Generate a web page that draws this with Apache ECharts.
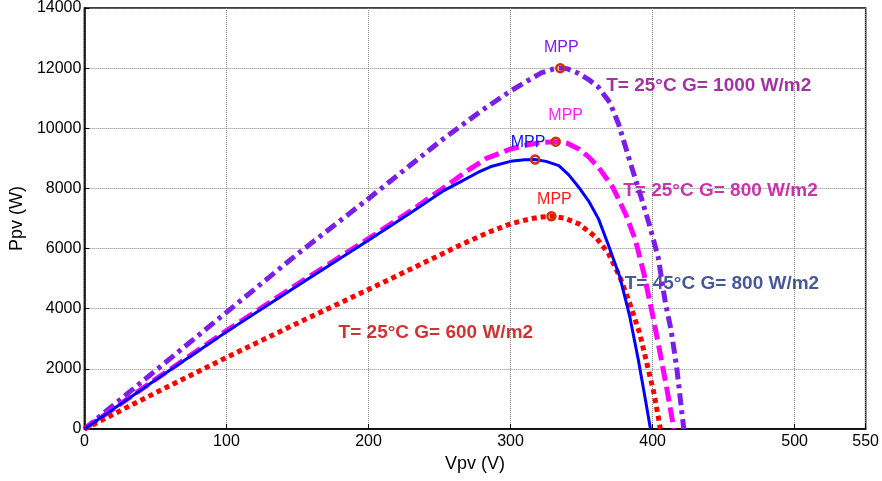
<!DOCTYPE html>
<html>
<head>
<meta charset="utf-8">
<script src="https://cdn.jsdelivr.net/npm/echarts@6/dist/echarts.min.js"></script>
<style>
html,body{margin:0;padding:0;background:#fff;}
#chart{width:882px;height:481px;}
</style>
</head>
<body>
<div id="chart"></div>
<script>
// ---- data ----
var xTicks = [0, 100, 200, 300, 400, 500, 550];
var yTicks = [0, 2000, 4000, 6000, 8000, 10000, 12000, 14000];

var v1000 = [0, 50, 100, 150, 200, 250, 280, 300, 312, 322, 330, 335, 340, 348, 355, 362, 370, 376, 385, 392, 398, 404, 409, 413, 417, 420, 422];
var p1000 = [0, 1940, 3880, 5820, 7660, 9550, 10600, 11240, 11580, 11850, 11970, 12000, 11980, 11820, 11620, 11360, 10850, 10150, 8750, 7700, 6750, 5700, 4200, 3300, 2050, 800, 0];

var v800 = [0, 50, 100, 150, 200, 230, 252, 270, 283, 300, 312, 322, 332, 340, 348, 355, 362, 372, 381, 388, 394, 400, 405, 410, 415];
var p800 = [0, 1650, 3270, 4820, 6330, 7260, 7990, 8600, 9000, 9310, 9450, 9530, 9556, 9500, 9313, 9050, 8700, 8040, 7150, 6270, 5150, 3800, 2600, 1350, 0];

var v600 = [0, 50, 100, 150, 200, 250, 264, 285, 300, 315, 322, 329, 338, 348, 360, 369, 377, 384, 391, 396, 401, 404, 405.5];
var p600 = [0, 1200, 2380, 3520, 4640, 5780, 6105, 6550, 6825, 7000, 7050, 7077, 7010, 6825, 6381, 5830, 5053, 4170, 3175, 2180, 1185, 408, 0];

var v45 = [0, 50, 100, 150, 200, 230, 252, 264, 277, 287, 300, 310, 317, 325, 334, 341, 348, 355, 362, 369, 377, 384, 390, 395, 398.5];
var p45 = [0, 1630, 3230, 4760, 6280, 7200, 7900, 8200, 8530, 8740, 8900, 8950, 8960, 8900, 8760, 8450, 8040, 7580, 6980, 6100, 5053, 3726, 2290, 962, 0];

var mppV = [335, 331.8, 328.8, 317.3];
var mppP = [12000, 9556, 7077, 8960];
var mppLabel = ['MPP', 'MPP', 'MPP', 'MPP'];

var curveLabels = ['T= 25°C G= 1000 W/m2', 'T= 25°C G= 800 W/m2', 'T= 25°C G= 600 W/m2', 'T= 45°C G= 800 W/m2'];
var curveLabelV = [367, 379, 178.6, 380];
var curveLabelP = [11414, 7930, 3185, 4844];

// ---- styles ----
var lineColors = ['#7b1fe8', '#ff00ff', '#ff0000', '#0000ff'];
var mppLabelColors = ['#7b1fe8', '#ff22ff', '#ff1a1a', '#1010ff'];
var mppOffsets = [[1, -21], [10, -26], [3, -17], [-7, -17]];
var curveLabelColors = ['#8c008c', '#c00096', '#c40000', '#17307f'];

function pairs(xs, ys) { return xs.map(function (x, i) { return [x, ys[i]]; }); }

var FONT = 'Liberation Sans, Arial, sans-serif';

var chart = echarts.init(document.getElementById('chart'));
var lineSeries = [
  {name: 'G1000', v: v1000, p: p1000, type: [12, 5, 4, 5], width: 5},
  {name: 'G800', v: v800, p: p800, type: [15, 6], width: 5},
  {name: 'G600', v: v600, p: p600, type: [5, 4], width: 5},
  {name: 'T45', v: v45, p: p45, type: 'solid', width: 3}
].map(function (s, i) {
  return {
    name: s.name,
    type: 'line',
    data: pairs(s.v, s.p),
    showSymbol: false,
    smooth: false,
    lineStyle: {color: lineColors[i], width: s.width, type: s.type, cap: 'butt', join: 'round'},
    z: 3 + i
  };
});

var mppData = mppV.map(function (v, i) {
  return {
    value: [v, mppP[i]],
    label: {
      show: true,
      formatter: mppLabel[i],
      position: 'inside',
      offset: mppOffsets[i],
      color: mppLabelColors[i],
      textBorderWidth: 0,
      fontSize: 16,
      fontFamily: FONT
    }
  };
});

var annData = curveLabels.map(function (t, i) {
  return {
    value: [curveLabelV[i], curveLabelP[i]],
    label: {
      show: true,
      formatter: t,
      position: 'right',
      distance: 0,
      color: curveLabelColors[i],
      textBorderWidth: 0,
      fontSize: 19,
      fontWeight: 'bold',
      fontFamily: FONT
    }
  };
});

var option = {
  animation: false,
  backgroundColor: '#fff',
  grid: {left: 83, right: 14, top: 7, bottom: 52, show: true, borderColor: '#000', borderWidth: 1.5, backgroundColor: 'transparent'},
  xAxis: {
    type: 'value', min: 0, max: 550, interval: 100,
    name: 'Vpv (V)', nameLocation: 'middle', nameGap: 26,
    nameTextStyle: {fontSize: 18, color: '#000', fontFamily: FONT},
    axisLine: {lineStyle: {color: '#000', width: 1.5}},
    axisTick: {inside: true, length: 5, lineStyle: {color: '#000'}},
    axisLabel: {color: '#000', fontSize: 16, fontFamily: FONT, margin: 5,
      formatter: function (v) { return xTicks.indexOf(v) >= 0 ? String(v) : ''; }},
    splitLine: {show: true, lineStyle: {color: '#888', type: 'dotted', width: 1}}
  },
  yAxis: {
    type: 'value', min: 0, max: 14000, interval: 2000,
    name: 'Ppv (W)', nameLocation: 'middle', nameGap: 52, nameRotate: 90,
    nameTextStyle: {fontSize: 18, color: '#000', fontFamily: FONT},
    axisLine: {show: true, lineStyle: {color: '#000', width: 1.5}},
    axisTick: {show: true, inside: true, length: 5, lineStyle: {color: '#000'}},
    axisLabel: {color: '#000', fontSize: 16, fontFamily: FONT, margin: 3,
      formatter: function (v) { return yTicks.indexOf(v) >= 0 ? String(v) : ''; }},
    splitLine: {show: true, lineStyle: {color: '#888', type: 'dotted', width: 1}}
  },
  series: [
    {
      name: 'labels', type: 'scatter', data: annData,
      symbolSize: 1, itemStyle: {color: 'rgba(0,0,0,0)'},
      z: 1
    }
  ].concat(lineSeries).concat([
    {
      name: 'MPP', type: 'scatter', data: mppData,
      symbol: 'circle', symbolSize: 8,
      itemStyle: {color: 'rgba(0,0,0,0)', borderColor: '#d03000', borderWidth: 2.5, opacity: 1},
      z: 10
    }
  ])
};
chart.setOption(option);
</script>
</body>
</html>
